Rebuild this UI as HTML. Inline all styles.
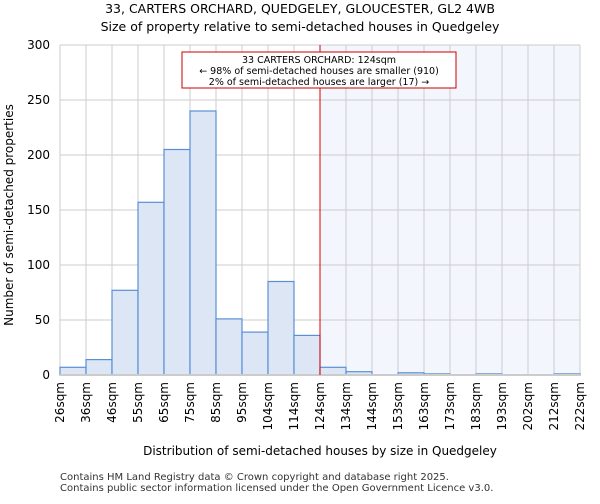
<!DOCTYPE html>
<html><head><meta charset="utf-8"><style>
body{margin:0;background:#fff;font-family:"DejaVu Sans","Liberation Sans",sans-serif;}
svg text{font-family:"DejaVu Sans","Liberation Sans",sans-serif;}
</style></head><body>
<svg id="c" width="600" height="500" xmlns="http://www.w3.org/2000/svg">
<text x="300" y="13" text-anchor="middle" font-size="12.5">33, CARTERS ORCHARD, QUEDGELEY, GLOUCESTER, GL2 4WB</text>
<text x="300" y="31" text-anchor="middle" font-size="12.5">Size of property relative to semi-detached houses in Quedgeley</text>
<g id="plot"></g>
<text x="320" y="455" text-anchor="middle" font-size="12">Distribution of semi-detached houses by size in Quedgeley</text>
<text transform="translate(13,215) rotate(-90)" text-anchor="middle" font-size="12">Number of semi-detached properties</text>
<text x="60" y="480" font-size="10" fill="#333">Contains HM Land Registry data © Crown copyright and database right 2025.</text>
<text x="60" y="491" font-size="10" fill="#333">Contains public sector information licensed under the Open Government Licence v3.0.</text>
</svg>
<script>
const categories=["26sqm","36sqm","46sqm","55sqm","65sqm","75sqm","85sqm","95sqm","104sqm","114sqm","124sqm","134sqm","144sqm","153sqm","163sqm","173sqm","183sqm","193sqm","202sqm","212sqm","222sqm"];
const counts=[7,14,77,157,205,240,51,39,85,36,7,3,0,2,1,0,1,0,0,1];
const yTicks=[0,50,100,150,200,250,300];
const markerIndex=10;
const NS="http://www.w3.org/2000/svg";
const X0=60,X1=580,Y0=375,Y1=45,YMAX=300;
const n=counts.length,bw=(X1-X0)/n;
const x=i=>X0+i*bw;
const y=v=>Y0-(v/YMAX)*(Y0-Y1);
const g=document.getElementById('plot');
function mk(t,a){const e=document.createElementNS(NS,t);for(const k in a)e.setAttribute(k,a[k]);g.appendChild(e);return e;}
let e;
e=mk('rect',{x:x(markerIndex),y:Y1,width:X1-x(markerIndex),height:Y0-Y1,fill:'#f3f6fd'});


for(let i=0;i<=n;i++){e=mk('line',{x1:x(i),x2:x(i),y1:Y1,y2:Y0,stroke:'#ccc','stroke-width':1});

}
yTicks.forEach(t=>{e=mk('line',{x1:X0,x2:X1,y1:y(t),y2:y(t),stroke:'#ccc','stroke-width':1});


e=mk('text',{x:X0-10,y:y(t)+4,'text-anchor':'end','font-size':'12'});e.textContent=t;

});
counts.forEach((v,i)=>{if(v<=0)return;e=mk('rect',{x:x(i),y:y(v),width:bw,height:Y0-y(v),fill:'#dce6f5',stroke:'#5a8fd6','stroke-width':1.2});

});
categories.forEach((c,i)=>{e=mk('text',{transform:`translate(${x(i)+4},382) rotate(-90)`,'text-anchor':'end','font-size':'12'});e.textContent=c;

});
e=mk('line',{x1:X0,x2:X1,y1:Y0,y2:Y0,stroke:'#ccc','stroke-width':2});


e=mk('line',{x1:x(markerIndex),x2:x(markerIndex),y1:Y1,y2:Y0,stroke:'#d00','stroke-width':1});


e=mk('rect',{x:182,y:52,width:274,height:36,fill:'#fff',stroke:'#c00','stroke-width':1});


["33 CARTERS ORCHARD: 124sqm","← 98% of semi-detached houses are smaller (910)","2% of semi-detached houses are larger (17) →"].forEach((s,i)=>{e=mk('text',{x:319,y:63+i*11,'text-anchor':'middle','font-size':'9.5'});e.textContent=s;

});
</script>
</body></html>
